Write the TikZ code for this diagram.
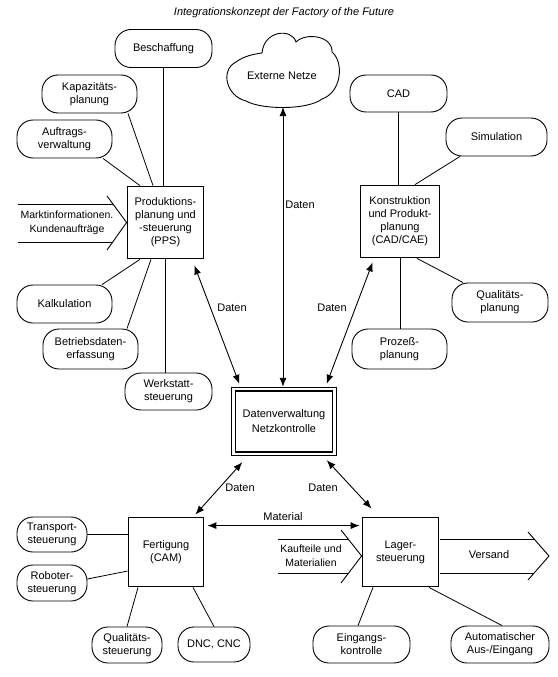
\documentclass[tikz,border=0pt]{standalone}
\usepackage{fontspec}
\setmainfont{Liberation Sans}
\usetikzlibrary{arrows.meta,fit}
\definecolor{Ink}{HTML}{000000}
\definecolor{Paper}{HTML}{FFFFFF}

\begin{document}
\begin{tikzpicture}[x=1pt, y=-1pt,
    satellite/.style={draw=Ink, rounded corners=16pt, line width=0.9pt, inner sep=0pt, minimum width=95pt, minimum height=38pt, align=center, font=\fontsize{11}{13}\selectfont, text=Ink},
    mainbox/.style={draw=Ink, line width=1.8pt, inner sep=0pt, align=center, font=\fontsize{11}{13}\selectfont, text=Ink},
    netbox/.style={draw=Ink, line width=1.6pt, inner sep=0pt, minimum width=97pt, minimum height=61pt, align=center, font=\fontsize{11}{15}\selectfont, text=Ink},
    netframe/.style={draw=Ink, line width=0.8pt, inner sep=3pt},
    flowlabel/.style={font=\fontsize{11}{13}\selectfont, text=Ink},
    arrowtext/.style={font=\fontsize{10.5}{14}\selectfont, text=Ink, align=center},
    titletext/.style={font=\itshape\fontsize{11}{13}\selectfont, text=Ink},
    link/.style={draw=Ink, line width=0.8pt},
    datalink/.style={draw=Ink, line width=0.9pt, {Latex[length=9pt,width=7pt]}-{Latex[length=9pt,width=7pt]}},
    bigarrow/.style={draw=Ink, line width=0.9pt}
]

\fill[Paper] (0,0) rectangle (557,677);

\node[titletext] (title) at (284,13) {Integrationskonzept der Factory of the Future};

\node[mainbox, minimum width=76pt, minimum height=72pt] (pps) at (165.5,222.5) {Produktions-\\planung und\\-steuerung\\(PPS)};
\node[mainbox, minimum width=79pt, minimum height=72pt] (kons) at (400,221.5) {Konstruktion\\und Produkt-\\planung\\(CAD/CAE)};
\node[mainbox, minimum width=75pt, minimum height=69pt] (fert) at (166,552) {Fertigung\\(CAM)};
\node[mainbox, minimum width=76pt, minimum height=69pt] (lager) at (400.5,552) {Lager-\\steuerung};
\node[netbox] (dv) at (284,421.5) {Datenverwaltung\\Netzkontrolle};
\node[netframe, fit=(dv)] (dvframe) {};

\node[satellite, minimum width=97pt] (besch) at (163.5,48.5) {Beschaffung};
\node[satellite] (kap) at (89.5,94) {Kapazitäts-\\planung};
\node[satellite] (auftr) at (64.5,139) {Auftrags-\\verwaltung};
\node[satellite] (kalk) at (64.5,304) {Kalkulation};
\node[satellite, minimum height=40pt] (bde) at (90.5,349) {Betriebsdaten-\\erfassung};
\node[satellite, minimum width=87pt, minimum height=37pt] (werk) at (168.5,391.5) {Werkstatt-\\steuerung};
\node[satellite, minimum width=97pt, minimum height=37pt] (cad) at (398.5,93.5) {CAD};
\node[satellite, minimum width=101pt] (sim) at (496.5,137) {Simulation};
\node[satellite, minimum width=96pt, minimum height=39pt] (qplan) at (500,302.5) {Qualitäts-\\planung};
\node[satellite, minimum height=40pt] (proz) at (399.5,349) {Prozeß-\\planung};
\node[satellite, minimum width=70pt, minimum height=35pt] (trans) at (52,534.5) {Transport-\\steuerung};
\node[satellite, minimum width=70pt, minimum height=36pt] (robo) at (52,583) {Roboter-\\steuerung};
\node[satellite, minimum width=70pt, minimum height=36pt] (qsteu) at (127,645) {Qualitäts-\\steuerung};
\node[satellite, minimum width=72pt, minimum height=35pt] (dnc) at (214,644.5) {DNC, CNC};
\node[satellite, minimum width=97pt, minimum height=37pt] (eing) at (361.5,644.5) {Eingangs-\\kontrolle};
\node[satellite, minimum width=98pt, minimum height=37pt] (auto) at (500,644.5) {Automatischer\\Aus-/Eingang};

\draw[link, line width=0.9pt] (262,53) .. controls (264,30) and (292,28) .. (296,42)
    .. controls (306,32) and (333,36) .. (332,52)
    .. controls (344,62) and (342,92) .. (322,99)
    .. controls (308,110) and (262,110) .. (246,101)
    .. controls (226,96) and (220,70) .. (236,62)
    .. controls (244,56) and (254,54) .. (262,53) -- cycle;
\node[flowlabel] (ext) at (282,76) {Externe Netze};
\coordinate (cloudbase) at (283,107);

\draw[link] (besch.south) -- (besch.south |- pps.north);
\draw[link] ([xshift=38.5pt]kap.south) -- ([xshift=-12.5pt]pps.north);
\draw[link] ([xshift=38.5pt]auftr.south) -- ([xshift=-25.5pt]pps.north);
\draw[link] ([xshift=37.5pt]kalk.north) -- ([xshift=-25.5pt]pps.south);
\draw[link] ([xshift=36.5pt]bde.north) -- ([xshift=-14.5pt]pps.south);
\draw[link] (pps.south) -- (pps.south |- werk.north);
\draw[link] (cad.south) -- (cad.south |- kons.north);
\draw[link] ([xshift=-36.5pt]sim.south) -- ([xshift=15pt]kons.north);
\draw[link] ([xshift=-37pt]qplan.north) -- ([xshift=17pt]kons.south);
\draw[link] (kons.south) -- (kons.south |- proz.north);
\draw[link] (trans.east) -- (trans.east -| fert.west);
\draw[link] ([yshift=4pt]robo.east) -- ([yshift=-19pt]fert.west);
\draw[link] (qsteu.north) -- ([xshift=-28pt]fert.south);
\draw[link] ([xshift=27pt]fert.south) -- (dnc.north);
\draw[link] ([xshift=-27.5pt]lager.south) -- ([xshift=-3.5pt]eing.north);
\draw[link] ([xshift=28.5pt]lager.south) -- ([xshift=2pt]auto.north);

\draw[datalink] ([xshift=-10pt,yshift=-6pt]pps.south east) -- ([xshift=8pt,yshift=3pt]dvframe.north west);
\draw[datalink] (cloudbase) -- (cloudbase |- dvframe.north);
\draw[datalink] ([xshift=13pt,yshift=-4pt]kons.south west) -- ([xshift=-10pt,yshift=3pt]dvframe.north east);
\draw[datalink] ([xshift=11pt,yshift=-6pt]dvframe.south west) -- ([xshift=-9pt,yshift=2pt]fert.north east);
\draw[datalink] ([xshift=-10pt,yshift=-4pt]dvframe.south east) -- ([xshift=10pt,yshift=8pt]lager.north west);
\draw[datalink] ([xshift=3pt,yshift=-9pt]fert.north east) -- ([xshift=-2pt,yshift=-9pt]lager.north west);

\node[flowlabel] (datenpps) at (232,308) {Daten};
\node[flowlabel] (datenext) at (300,205) {Daten};
\node[flowlabel] (datenkons) at (332,308) {Daten};
\node[flowlabel] (datenfert) at (240,488) {Daten};
\node[flowlabel] (datenlager) at (323,488) {Daten};
\node[flowlabel] (material) at (283,517) {Material};

\draw[bigarrow] (18,204) -- (113,204);
\draw[bigarrow] (18,242) -- (113,242);
\draw[bigarrow] (107,196) -- (pps.west) -- (107,250);
\node[arrowtext] (markt) at (67,222.5) {Marktinformationen.\\Kundenaufträge};

\draw[bigarrow] (278,539) -- (348,539);
\draw[bigarrow] (278,573) -- (348,573);
\draw[bigarrow] (341,530) -- ([yshift=-4pt]lager.west) -- (341,583);
\node[arrowtext] (kauf) at (311,556) {Kaufteile und\\Materialien};

\coordinate (versandtip) at (549,556);
\draw[bigarrow] (440,539) -- (534,539);
\draw[bigarrow] (440,573) -- (534,573);
\draw[bigarrow] (528,532) -- (versandtip) -- (528,580);
\node[flowlabel] (versand) at (489,555) {Versand};

\end{tikzpicture}
\end{document}
